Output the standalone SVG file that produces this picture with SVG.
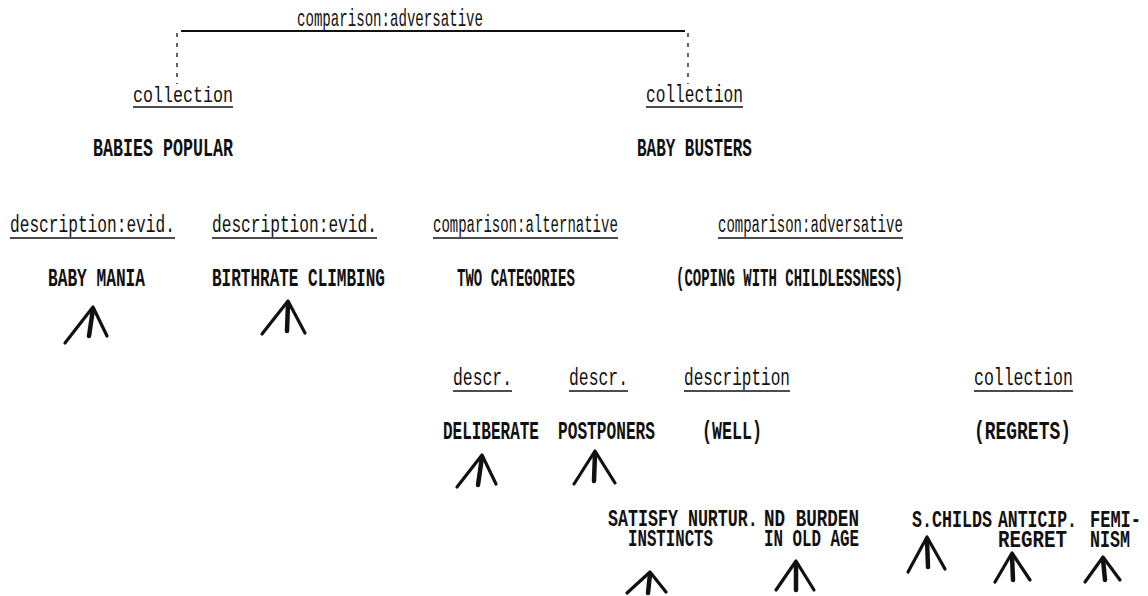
<svg xmlns="http://www.w3.org/2000/svg" width="1148" height="596" viewBox="0 0 1148 596">
<style>
.lbl{font-family:"Liberation Mono","DejaVu Sans Mono",monospace;font-size:23px;fill:#111}
.val{font-family:"Liberation Mono","DejaVu Sans Mono",monospace;font-size:26px;font-weight:bold;fill:#111}
.sm{font-size:24px}
.ul{stroke:#111;stroke-width:1.6}
.arr{fill:none;stroke:#111;stroke-width:3.2;stroke-linecap:round;stroke-linejoin:round}
.stem{fill:none;stroke:#111;stroke-width:4.5;stroke-linecap:round}
.dash{stroke:#111;stroke-width:1.3;stroke-dasharray:4 6}
</style>
<rect width="1148" height="596" fill="#fff"/>
<g id="connectors">
<line x1="181" y1="31" x2="685" y2="31" stroke="#111" stroke-width="2"/>
<line class="dash" x1="177" y1="33" x2="177" y2="84"/>
<line class="dash" x1="688" y1="33" x2="688" y2="84"/>
</g>
<g id="root">
<text class="lbl" transform="translate(297,26) scale(0.613,1)">comparison:adversative</text>
</g>
<g id="babies-popular">
<text class="lbl" transform="translate(133,102) scale(0.725,1)">collection</text>
<line class="ul" x1="133" y1="107" x2="233" y2="107"/>
<text class="val" transform="translate(93,156) scale(0.641,1)">BABIES POPULAR</text>
</g>
<g id="baby-busters">
<text class="lbl" transform="translate(646,102) scale(0.703,1)">collection</text>
<line class="ul" x1="646" y1="107" x2="743" y2="107"/>
<text class="val" transform="translate(637,156) scale(0.614,1)">BABY BUSTERS</text>
</g>
<g id="baby-mania">
<text class="lbl" transform="translate(10,232) scale(0.703,1)">description:evid.</text>
<line class="ul" x1="10" y1="238" x2="175" y2="238"/>
<text class="val" transform="translate(48,286) scale(0.622,1)">BABY MANIA</text>
<path class="arr" d="M65 343 L93 307 L107 336"/>
<path class="stem" d="M93 309 L89 336"/>
</g>
<g id="birthrate-climbing">
<text class="lbl" transform="translate(212,232) scale(0.703,1)">description:evid.</text>
<line class="ul" x1="212" y1="238" x2="377" y2="238"/>
<text class="val" transform="translate(212,286) scale(0.616,1)">BIRTHRATE CLIMBING</text>
<path class="arr" d="M262 334 L288 301 L305 333"/>
<path class="stem" d="M288 303 L287 331"/>
</g>
<g id="two-categories">
<text class="lbl" transform="translate(433,232) scale(0.609,1)">comparison:alternative</text>
<line class="ul" x1="433" y1="238" x2="618" y2="238"/>
<text class="val" transform="translate(457,286) scale(0.54,1)">TWO CATEGORIES</text>
</g>
<g id="coping">
<text class="lbl" transform="translate(718,232) scale(0.609,1)">comparison:adversative</text>
<line class="ul" x1="718" y1="238" x2="903" y2="238"/>
<text class="val" transform="translate(676,286) scale(0.539,1)">(COPING WITH CHILDLESSNESS)</text>
</g>
<g id="deliberate">
<text class="lbl" transform="translate(453,385) scale(0.713,1)">descr.</text>
<line class="ul" x1="453" y1="391" x2="512" y2="391"/>
<text class="val" transform="translate(443,439) scale(0.615,1)">DELIBERATE</text>
<path class="arr" d="M457 487 L482 455 L496 484"/>
<path class="stem" d="M482 457 L478 485"/>
</g>
<g id="postponers">
<text class="lbl" transform="translate(569,385) scale(0.713,1)">descr.</text>
<line class="ul" x1="569" y1="391" x2="628" y2="391"/>
<text class="val" transform="translate(558,439) scale(0.622,1)">POSTPONERS</text>
<path class="arr" d="M574 484 L595 451 L615 483"/>
<path class="stem" d="M595 453 L594 481"/>
</g>
<g id="well">
<text class="lbl" transform="translate(684,385) scale(0.698,1)">description</text>
<line class="ul" x1="684" y1="391" x2="790" y2="391"/>
<text class="val" transform="translate(702,439) scale(0.641,1)">(WELL)</text>
</g>
<g id="satisfy">
<text class="val sm" transform="translate(608,526) scale(0.694,1)">SATISFY NURTUR.</text>
<text class="val sm" transform="translate(628,546) scale(0.656,1)">INSTINCTS</text>
<path class="arr" d="M627 593 L650 572 L666 592"/>
<path class="stem" d="M650 574 L648 593"/>
</g>
<g id="no-burden">
<text class="val sm" transform="translate(764,526) scale(0.733,1)">ND BURDEN</text>
<text class="val sm" transform="translate(764,546) scale(0.66,1)">IN OLD AGE</text>
<path class="arr" d="M776 590 L796 561 L814 590"/>
<path class="stem" d="M796 563 L796 590"/>
</g>
<g id="regrets">
<text class="lbl" transform="translate(974,385) scale(0.717,1)">collection</text>
<line class="ul" x1="974" y1="391" x2="1073" y2="391"/>
<text class="val" transform="translate(974,439) scale(0.691,1)">(REGRETS)</text>
</g>
<g id="s-childs">
<text class="val sm" transform="translate(912,527) scale(0.694,1)">S.CHILDS</text>
<path class="arr" d="M908 572 L927 537 L945 569"/>
<path class="stem" d="M927 539 L928 567"/>
</g>
<g id="anticip-regret">
<text class="val sm" transform="translate(998,527) scale(0.686,1)">ANTICIP.</text>
<text class="val sm" transform="translate(998,547) scale(0.799,1)">REGRET</text>
<path class="arr" d="M995 582 L1012 553 L1030 580"/>
<path class="stem" d="M1012 555 L1013 580"/>
</g>
<g id="feminism">
<text class="val sm" transform="translate(1090,527) scale(0.708,1)">FEMI-</text>
<text class="val sm" transform="translate(1090,547) scale(0.694,1)">NISM</text>
<path class="arr" d="M1085 582 L1103 557 L1120 580"/>
<path class="stem" d="M1103 559 L1105 580"/>
</g>
</svg>
